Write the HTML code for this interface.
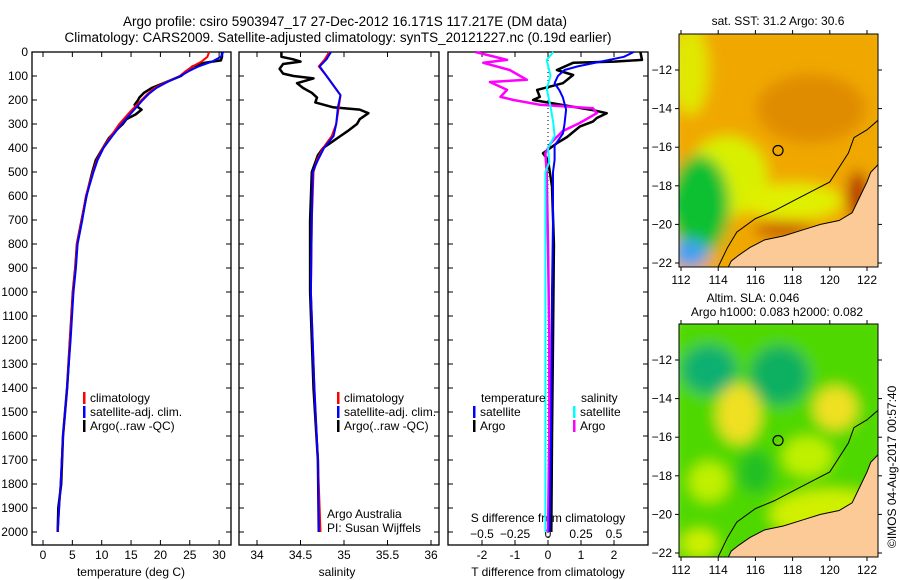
<!DOCTYPE html>
<html><head><meta charset="utf-8"><style>
body{margin:0;background:#fff}
svg{display:block;font-family:"Liberation Sans",sans-serif}
text{font-size:12px;fill:#000}
</style></head><body>
<svg id="fig" width="900" height="580" viewBox="0 0 900 580">
<defs>
<filter id="blur" x="-30%" y="-30%" width="160%" height="160%"><feGaussianBlur stdDeviation="7"/></filter>
<clipPath id="c1"><rect x="679" y="34" width="199" height="233"/></clipPath>
<clipPath id="c2"><rect x="679" y="324" width="199" height="233"/></clipPath>
</defs>
<text x="345" y="26" text-anchor="middle" style="font-size:13.5px">Argo profile: csiro 5903947_17 27-Dec-2012 16.171S 117.217E (DM data)</text>
<text x="338" y="42" text-anchor="middle" style="font-size:13.5px">Climatology: CARS2009. Satellite-adjusted climatology: synTS_20121227.nc (0.19d earlier)</text>
<g id="panels"></g>
<g id="maps"></g>
</svg>
<script>
// ---- data (depth in dbar) ----
const tDepth=[0,20,40,60,80,100,125,150,175,200,250,300,350,400,450,500,600,700,800,900,1000,1200,1400,1600,1800,2000];
const tClim=[28.3,28.0,27.0,25.5,24.3,23.3,21.0,19.0,17.8,16.8,14.8,13.0,11.6,10.2,9.2,8.5,7.3,6.6,5.8,5.5,5.1,4.6,4.1,3.4,3.0,2.5];
const tSat=[30.7,30.3,28.8,26.5,24.8,23.4,21.2,19.3,18.0,17.0,15.2,13.4,11.8,10.3,9.3,8.6,7.4,6.7,5.9,5.6,5.2,4.7,4.1,3.4,3.0,2.5];
const argoTDepth=[0,20,35,45,60,80,100,125,150,170,190,200,220,240,260,280,300,330,360,400,450,500,600,700,800,900,1000,1200,1400,1600,1800,1900,2000];
const argoT=[30.5,30.5,30.3,27.5,25.5,24.5,23.5,21.0,18.5,17.2,16.4,16.2,15.6,16.8,15.8,14.2,13.6,12.3,11.2,10.2,9.0,8.4,7.4,6.6,5.8,5.5,5.1,4.6,4.1,3.4,3.1,2.6,2.5];
const sDepth=[0,30,60,100,150,180,230,300,350,400,450,500,700,1000,1400,1700,2000];
const sClim=[34.83,34.78,34.71,34.80,34.9,34.96,34.94,34.91,34.86,34.76,34.69,34.65,34.63,34.62,34.66,34.70,34.73];
const sSat=[34.85,34.80,34.72,34.80,34.9,34.96,34.93,34.91,34.88,34.77,34.70,34.64,34.63,34.62,34.66,34.70,34.71];
const argoSDepth=[0,20,30,40,50,70,90,100,110,130,150,170,190,210,230,240,255,280,300,330,350,380,400,430,460,500,700,1000,1400,1700,2000];
const argoS=[34.28,34.28,34.41,34.50,34.30,34.26,34.30,34.42,34.65,34.46,34.53,34.63,34.69,34.67,34.87,35.18,35.28,35.18,35.15,35.04,34.96,34.84,34.76,34.70,34.67,34.63,34.61,34.61,34.65,34.70,34.71];
const dDepth=[0,20,40,60,75,100,130,160,190,240,300,340,370,390,450,500,700,1000,1500,2000];
const dTSat=[2.6,2.3,1.6,0.9,0.5,0.3,0.2,0.35,0.45,0.55,0.5,0.45,0.3,0.2,0.2,0.15,0.15,0.12,0.1,0.05];
const dTArgoDepth=[0,33,40,45,75,96,130,158,187,200,242,255,275,290,310,354,380,422,450,560,800,1200,1600,2000];
const dTArgo=[2.8,2.85,2.0,0.76,0.27,0.76,0.45,-0.33,-0.25,-0.45,1.36,1.78,1.48,1.36,0.97,0.58,0.27,-0.15,0.0,0.12,0.18,0.15,0.12,0.1];
const dSArgoDepth=[0,33,45,75,116,125,158,187,200,220,234,255,296,330,380,422,500,800,1200,1600,2000];
const dSArgo=[-0.55,-0.31,-0.49,-0.29,-0.16,-0.44,-0.31,-0.36,-0.26,-0.06,0.34,0.37,0.24,0.11,0.02,-0.02,-0.01,0.0,0.01,0.01,0.0];
const dSSatDepth=[0,33,100,152,230,296,350,400,460,500,800,1200,1600,2000];
const dSSat=[0.04,-0.01,0.02,-0.01,0.02,0.04,0.05,0.0,0.01,-0.02,-0.02,-0.02,-0.02,-0.02];
const depthTicks=[0,100,200,300,400,500,600,700,800,900,1000,1100,1200,1300,1400,1500,1600,1700,1800,1900,2000];
const tTicks=[0,5,10,15,20,25,30];
const sTicks=[34,34.5,35,35.5,36];
const dTTicks=[-2,-1,0,1,2];
const dSTicks=[-0.5,-0.25,0,0.25,0.5];
const dSTickLabels=["−0.5","−0.25","0","0.25","0.5"];
const lonTicks=[112,114,116,118,120,122];
const latTicks=[-12,-14,-16,-18,-20,-22];

const NS='http://www.w3.org/2000/svg';
function el(tag,attrs,parent,txt){const e=document.createElementNS(NS,tag);for(const k in attrs)e.setAttribute(k,attrs[k]);if(txt!==undefined)e.textContent=txt;parent.appendChild(e);return e;}
const panels=document.getElementById('panels');
const Y=d=>52+0.24*d;
const PTOP=52,PBOT=545;
function frame(x0,x1,name){
 const r=el('rect',{x:x0,y:PTOP,width:x1-x0,height:PBOT-PTOP,fill:'none',stroke:'#000','stroke-width':1.3},panels);
 
 
 depthTicks.forEach(d=>{
  el('line',{x1:x0,x2:x0+5,y1:Y(d),y2:Y(d),stroke:'#000'},panels);
  el('line',{x1:x1,x2:x1-5,y1:Y(d),y2:Y(d),stroke:'#000'},panels);
 });
}
function xticks(X,ticks,labels,x0,x1,ly,name){
 ticks.forEach((t,i)=>{
  el('line',{x1:X(t),x2:X(t),y1:PBOT,y2:PBOT-5,stroke:'#000'},panels);
  el('line',{x1:X(t),x2:X(t),y1:PTOP,y2:PTOP+5,stroke:'#000'},panels);
  const tx=el('text',{x:X(t),y:ly,'text-anchor':'middle'},panels,labels?labels[i]:String(t));
  
  
 });
}
function line(X,depths,vals,color,w,name){
 const pts=depths.map((d,i)=>X(vals[i]).toFixed(1)+','+Y(d).toFixed(1)).join(' ');
 const p=el('polyline',{points:pts,fill:'none',stroke:color,'stroke-width':w,'stroke-linejoin':'round'},panels);
 
 
}
function legend(x,y,items){
 items.forEach((it,i)=>{
  el('rect',{x:x,y:y+i*14-10,width:2.5,height:12,fill:it[1]},panels);
  const t=el('text',{x:x+7,y:y+i*14},panels,it[0]);
  
  
 });
}
// panel 1 temperature
const XT=t=>43+5.87*t;
frame(32,231,'temperature-panel');
depthTicks.forEach(d=>{const t=el('text',{x:28,y:Y(d)+4,'text-anchor':'end'},panels,String(d));
 
 });
xticks(XT,tTicks,null,32,231,559,'temperature-tick-label');
el('text',{x:131,y:576,'text-anchor':'middle'},panels,'temperature (deg C)');
line(XT,argoTDepth,argoT,'#000',2.5,'argo-temperature-line');
line(XT,tDepth,tClim,'#f00',2,'climatology-temperature-line');
line(XT,tDepth,tSat,'#00f',2,'satellite-temperature-line');
legend(83,402,[['climatology','#f00'],['satellite-adj. clim.','#00f'],['Argo(..raw -QC)','#000']]);
// panel 2 salinity
const XS=s=>257+87*(s-34);
frame(239,439,'salinity-panel');
xticks(XS,sTicks,null,239,439,559,'salinity-tick-label');
el('text',{x:337,y:576,'text-anchor':'middle'},panels,'salinity');
line(XS,argoSDepth,argoS,'#000',2.5,'argo-salinity-line');
line(XS,sDepth,sClim,'#f00',2,'climatology-salinity-line');
line(XS,sDepth,sSat,'#00f',2,'satellite-salinity-line');
legend(337,402,[['climatology','#f00'],['satellite-adj. clim.','#00f'],['Argo(..raw -QC)','#000']]);
el('text',{x:327,y:518},panels,'Argo Australia');
el('text',{x:327,y:532},panels,'PI: Susan Wijffels');
// panel 3 differences
const XD=t=>548+33*t;
const XDS=s=>548+132*s;
frame(448,648,'difference-panel');
el('line',{x1:548,x2:548,y1:PTOP,y2:PBOT,stroke:'#000','stroke-dasharray':'1,3'},panels);
xticks(XD,dTTicks,null,448,648,559,'t-diff-tick-label');
dSTicks.forEach((s,i)=>{const t=el('text',{x:XDS(s),y:538,'text-anchor':'middle'},panels,dSTickLabels[i]);
 
 });
el('text',{x:548,y:522,'text-anchor':'middle'},panels,'S difference from climatology');
el('text',{x:548,y:576,'text-anchor':'middle'},panels,'T difference from climatology');
line(XD,dTArgoDepth,dTArgo,'#000',2.5,'argo-t-diff-line');
line(XDS,dSArgoDepth,dSArgo,'#f0f',2.5,'argo-s-diff-line');
line(XD,dDepth,dTSat,'#00f',2,'satellite-t-diff-line');
line(XDS,dSSatDepth,dSSat,'#0ff',2,'satellite-s-diff-line');
el('text',{x:481,y:402},panels,'temperature');
legend(473,416,[['satellite','#00f'],['Argo','#000']]);
el('text',{x:581,y:402},panels,'salinity');
legend(573,416,[['satellite','#0ff'],['Argo','#f0f']]);

// ---- maps ----
const maps=document.getElementById('maps');
const MX=lon=>681+18.6*(lon-112);
const coastLand=[[114.5,-22.3],[114.7,-21.9],[115.1,-21.6],[115.7,-21.2],[116.5,-20.8],[117.5,-20.6],[118.5,-20.3],[119.5,-20.0],[120.5,-19.8],[121.2,-19.4],[121.6,-18.6],[122,-17.8],[122.2,-17.3],[122.6,-16.9],[122.6,-22.3]];
const shelf=[[114,-22.2],[114.5,-21.2],[115,-20.4],[116,-19.7],[117,-19.3],[118,-18.8],[119,-18.3],[120,-17.8],[120.4,-17.2],[121,-16.3],[121.3,-15.5],[122,-15.1],[122.6,-14.6]];
function drawMap(y0,clip,kind,name){
 const MY=lat=>y0+36+19.3*(-12-lat);
 const g=el('g',{'clip-path':'url(#'+clip+')'},maps);
 
 
 const b=el('g',{filter:'url(#blur)'},g);
 if(kind==='sst'){
  el('rect',{x:670,y:y0-10,width:220,height:260,fill:'#f0a800'},b);
  el('ellipse',{cx:MX(112.5),cy:MY(-12),rx:18,ry:45,fill:'#e0e800'},b);
  el('ellipse',{cx:MX(114.5),cy:MY(-17.5),rx:40,ry:40,fill:'#d8f000'},b);
  el('ellipse',{cx:MX(118),cy:MY(-18.8),rx:50,ry:18,fill:'#e0f000'},b);
  el('ellipse',{cx:MX(113),cy:MY(-19),rx:30,ry:50,fill:'#10c030'},b);
  el('ellipse',{cx:MX(112.5),cy:MY(-21.5),rx:18,ry:14,fill:'#40a0f0'},b);
  el('ellipse',{cx:MX(119),cy:MY(-14),rx:55,ry:35,fill:'#e08c00'},b);
  el('ellipse',{cx:MX(121.5),cy:MY(-18.5),rx:10,ry:25,fill:'#b02800'},b);
  el('ellipse',{cx:MX(117.5),cy:MY(-20.3),rx:30,ry:7,fill:'#c04800'},b);
 } else {
  el('rect',{x:670,y:y0-10,width:220,height:260,fill:'#50d800'},b);
  el('ellipse',{cx:MX(113.5),cy:MY(-12.5),rx:28,ry:25,fill:'#10b070'},b);
  el('ellipse',{cx:MX(117.3),cy:MY(-12.8),rx:30,ry:30,fill:'#10b060'},b);
  el('ellipse',{cx:MX(115.1),cy:MY(-14.8),rx:22,ry:30,fill:'#f0e020'},b);
  el('ellipse',{cx:MX(120.3),cy:MY(-14.5),rx:22,ry:22,fill:'#f0e020'},b);
  el('ellipse',{cx:MX(118.8),cy:MY(-17),rx:25,ry:20,fill:'#c0f000'},b);
  el('ellipse',{cx:MX(113.5),cy:MY(-18.3),rx:20,ry:20,fill:'#c0f000'},b);
  el('ellipse',{cx:MX(120),cy:MY(-20),rx:60,ry:25,fill:'#d0f000'},b);
  el('ellipse',{cx:MX(113),cy:MY(-21.5),rx:18,ry:14,fill:'#d0f000'},b);
  el('ellipse',{cx:MX(116),cy:MY(-17.8),rx:18,ry:22,fill:'#20c020'},b);
 }
 el('polygon',{points:coastLand.map(p=>MX(p[0])+','+MY(p[1])).join(' '),fill:'#fcca96',stroke:'#000','stroke-width':1},g);
 el('polyline',{points:shelf.map(p=>MX(p[0])+','+MY(p[1])).join(' '),fill:'none',stroke:'#000','stroke-width':1},g);
 const m=el('circle',{cx:MX(117.217),cy:MY(-16.171),r:5,fill:'none',stroke:'#000','stroke-width':1.2},maps);
 
 
 el('rect',{x:679,y:y0,width:199,height:233,fill:'none',stroke:'#000','stroke-width':1},maps);
 lonTicks.forEach(l=>{el('line',{x1:MX(l),x2:MX(l),y1:y0+233,y2:y0+237,stroke:'#000'},maps);
  el('line',{x1:MX(l),x2:MX(l),y1:y0,y2:y0-4,stroke:'#000'},maps);
  const t=el('text',{x:MX(l),y:y0+250,'text-anchor':'middle'},maps,String(l));
  
  });
 latTicks.forEach(l=>{el('line',{x1:679,x2:675,y1:MY(l),y2:MY(l),stroke:'#000'},maps);
  el('line',{x1:878,x2:882,y1:MY(l),y2:MY(l),stroke:'#000'},maps);
  const t=el('text',{x:672,y:MY(l)+4,'text-anchor':'end'},maps,String(l).replace('-','−'));
  
  });
}
drawMap(34,'c1','sst','sst-map');
drawMap(324,'c2','sla','sla-map');
el('text',{x:778,y:25,'text-anchor':'middle'},maps,'sat. SST: 31.2 Argo: 30.6');
el('text',{x:753,y:302,'text-anchor':'middle'},maps,'Altim. SLA: 0.046');
el('text',{x:777,y:316,'text-anchor':'middle'},maps,'Argo h1000: 0.083 h2000: 0.082');
el('text',{x:896,y:548,transform:'rotate(-90 896 548)'},maps,'©IMOS 04-Aug-2017 00:57:40');
</script>
</body></html>
